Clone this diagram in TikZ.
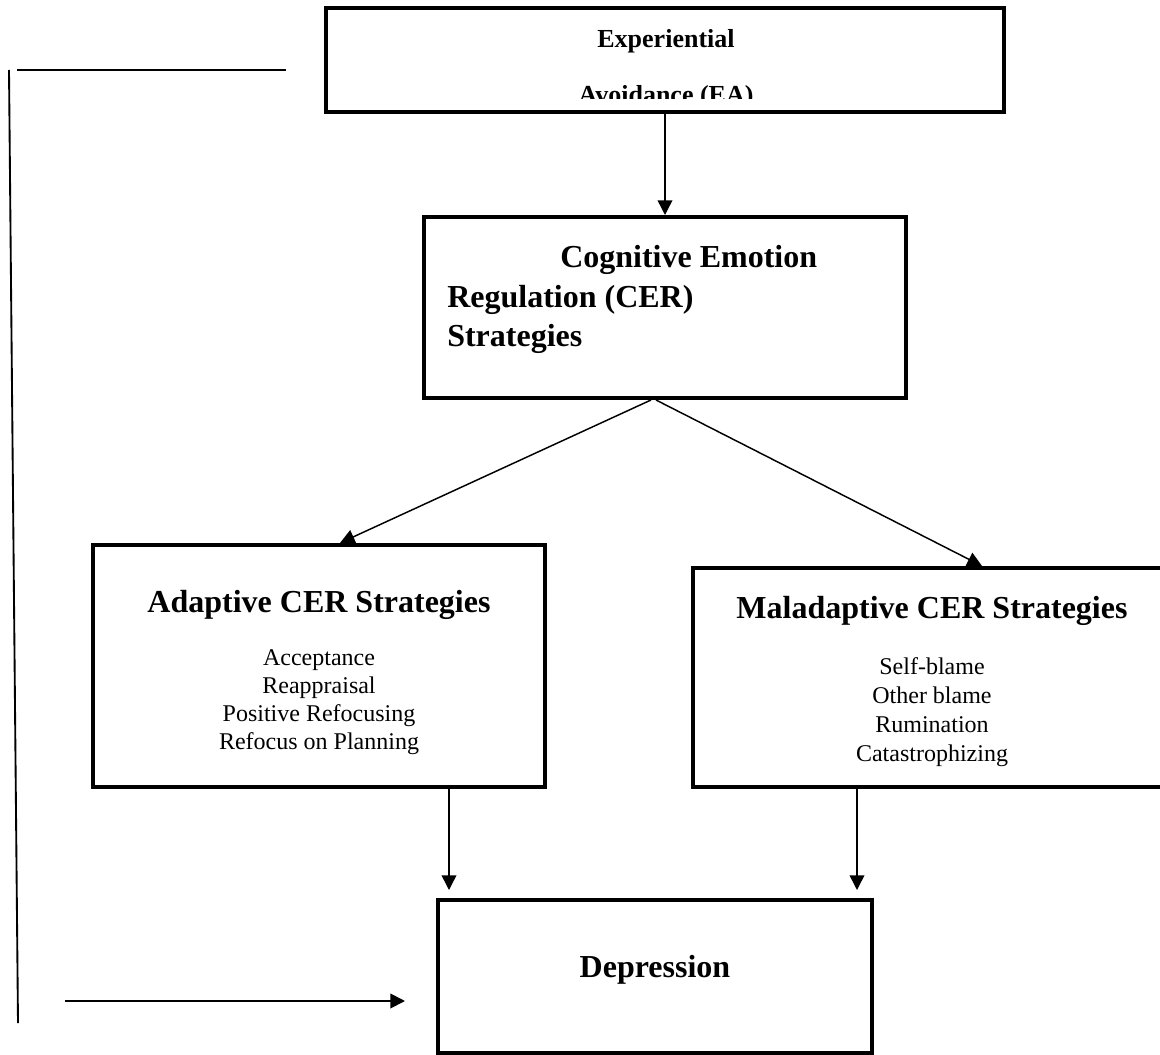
\documentclass[tikz,border=0pt]{standalone}
\usepackage{fontspec}
\setmainfont{Liberation Serif}
\usetikzlibrary{arrows.meta, positioning, calc}
\tikzstyle{box} = [draw, rectangle, line width=3pt, inner sep=0pt]
\tikzstyle{arrow} = [line width=1.1pt, -{Triangle[length=11pt,width=11pt]}]
\tikzstyle{feedback} = [line width=1.4pt]
\tikzstyle{heading} = [inner sep=0pt, font=\bfseries\fontsize{24}{30}\selectfont]
\tikzstyle{smallhead} = [inner sep=0pt, font=\bfseries\fontsize{19.5}{24}\selectfont]
\tikzstyle{strategies} = [inner sep=0pt, align=center, font=\fontsize{18}{21}\selectfont]

\begin{document}
\begin{tikzpicture}[x=0.75pt,y=-0.75pt]
\useasboundingbox (0,0) rectangle (1160,1055);

   	% boxes
   	\node[box,minimum width=508.5pt,minimum height=78pt] (ea) at (665,60) {};
   	\node[box,minimum width=361.5pt,minimum height=135.75pt] (cer) at (665,307.5) {};
   	\node[box,minimum width=339pt,minimum height=181.5pt] (adap) at (319,666) {};
   	\node[box,minimum width=358.5pt,minimum height=164.25pt] (mal) at (932,677.5) {};
   	\node[box,minimum width=325.5pt,minimum height=114.75pt] (dep) at (655,976.5) {};

   	% texts
   	\node[smallhead,anchor=base] (eaTop) at (666,48) {Experiential};
   	\begin{scope}
   	\clip (327,8) rectangle (1005,99);
   	\node[smallhead,anchor=base] (eaBot) at (666,104) {Avoidance (EA)};
   	\end{scope}
   	\node[heading,anchor=base west] (cerA) at (560,268) {Cognitive Emotion};
   	\node[heading,anchor=base west] (cerB) at (447,308) {Regulation (CER)};
   	\node[heading,anchor=base west] (cerC) at (447,347) {Strategies};
   	\node[heading,anchor=base] (adapTitle) at (319,612) {Adaptive CER Strategies};
   	\node[strategies,anchor=north] (adapList) at (319,649) {Acceptance\\Reappraisal\\Positive Refocusing\\Refocus on Planning};
   	\node[heading,anchor=base] (malTitle) at (932,618) {Maladaptive CER Strategies};
   	\node[strategies,anchor=north,font=\fontsize{18}{21.75}\selectfont] (malList) at (932,657) {Self-blame\\Other blame\\Rumination\\Catastrophizing};
   	\node[heading,anchor=base] (depText) at (655,977) {Depression};

   	% connectors
   	\coordinate (adapOut) at ($(adap.south east)+(-98,0)$);
   	\coordinate (malOut) at ($(mal.south west)+(166,0)$);
   	\draw[arrow] (ea.south) -- (cer.north);
   	\draw[arrow] ($(cer.south)+(-14,0)$) -- ($(adap.north)+(21,0)$);
   	\draw[arrow] ($(cer.south)+(-9,0)$) -- ($(mal.north)+(50,0)$);
   	\draw[arrow,shorten >=6pt] (adapOut) -- (adapOut |- dep.north);
   	\draw[arrow,shorten >=6pt] (malOut) -- (malOut |- dep.north);

   	% feedback line on the left
   	\coordinate (fbTopL) at (17,70);
   	\coordinate (fbTopR) at (286,70);
   	\coordinate (fbUp) at (9,70);
   	\coordinate (fbDown) at (18,1023);
   	\coordinate (fbStart) at (65,1001);
   	\draw[feedback] (fbTopL) -- (fbTopR);
   	\draw[feedback] (fbUp) -- (fbDown);
   	\draw[arrow,line width=1.4pt] (fbStart) -- ($(fbStart -| dep.west)+(-31,0)$);
\end{tikzpicture}
\end{document}
